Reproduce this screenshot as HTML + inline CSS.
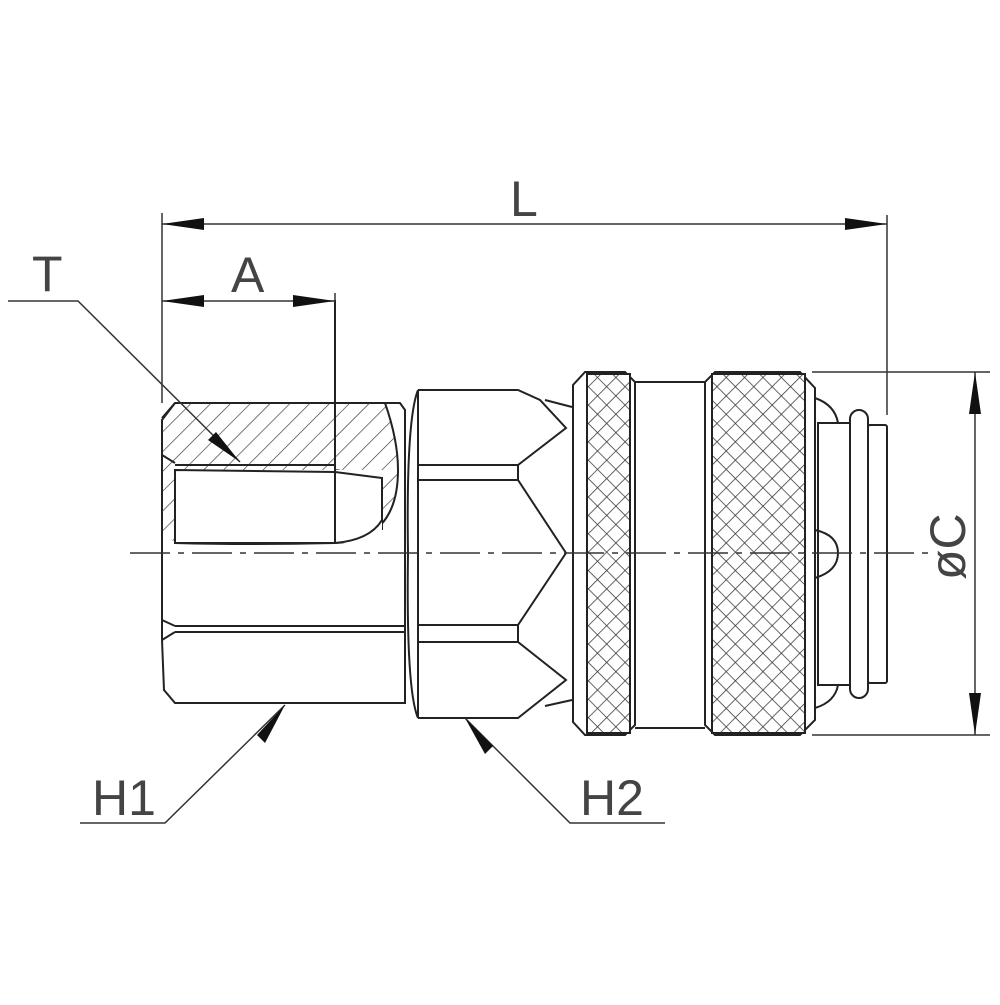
<!DOCTYPE html>
<html><head><meta charset="utf-8"><style>html,body{margin:0;padding:0;background:#fff}</style></head>
<body>
<svg width="1000" height="1000" viewBox="0 0 1000 1000" xmlns="http://www.w3.org/2000/svg">
<defs>
<pattern id="hatch" width="14" height="14" patternUnits="userSpaceOnUse" patternTransform="rotate(45)">
<line x1="0" y1="0" x2="0" y2="14" stroke="#333" stroke-width="1.3"/>
</pattern>
<pattern id="knurl" width="13" height="13" patternUnits="userSpaceOnUse" patternTransform="rotate(45)">
<rect width="13" height="13" fill="#fff"/>
<line x1="0" y1="0" x2="0" y2="13" stroke="#333" stroke-width="1.5"/>
<line x1="0" y1="0" x2="13" y2="0" stroke="#333" stroke-width="1.5"/>
</pattern>
</defs>
<g fill="none" stroke="#222" stroke-width="2">
<path d="M175,403 L400,403 L405,410 L405,703 L175,703 L164,690 L162,640 L162,420 Z" fill="#fff"/>
<path d="M177,403 L385,403 Q398,440 398,470 Q398,540 340,543 L175,543 L162,530 L162,418 Z" fill="url(#hatch)" stroke="none"/>
<path d="M162,418 L175,403"/>
<path d="M175,463 L162,455"/>
<path d="M175,465 L335,465 L335,470 L382,478 L382,530"/>
<path d="M175,470 L175,543 Q250,545 335,543 Q398,540 398,470 Q398,440 385,403"/>
<rect x="175" y="470" width="207" height="73" fill="#fff" stroke="none"/>
<path d="M175,470 L335,472 L382,478 L382,520 Q370,540 335,543 L175,543 Z"/>
<path d="M335,300 L335,543"/>
<path d="M175,626 L405,626 M175,632 L405,632"/>
<path d="M162,620 L175,626 M162,640 L175,632"/>
<path d="M418,390 L518,390 L540,400 L566,428 L518,465 L418,465 M418,480 L518,480 L566,553 L518,625 L418,625 M418,642 L518,642 L566,680 L518,718 L418,718" />
<path d="M418,390 Q406,420 408,553 Q406,690 418,718"/>
<path d="M418,390 L418,718 M518,465 L518,480 M518,625 L518,642"/>
<path d="M545,400 L572,407 M545,706 L572,700"/>
<path d="M585,372 L625,372 L635,382 L635,725 L625,735 L585,735 L573,722 L573,385 Z" fill="#fff"/>
<rect x="587" y="374" width="43" height="359" fill="url(#knurl)" stroke="#222"/>
<path d="M635,382 L705,382 M635,728 L705,728"/>
<path d="M715,372 L800,372 L815,388 L815,720 L800,735 L715,735 L705,725 L705,382 Z" fill="#fff"/>
<rect x="712" y="374" width="93" height="359" fill="url(#knurl)" stroke="#222"/>
<path d="M815,398 Q835,405 838,423 M815,530 Q838,535 838,553 Q838,571 815,578 M815,708 Q835,702 838,685"/>
<rect x="818" y="423" width="32" height="262"/>
<rect x="850" y="410" width="18" height="288" rx="9"/>
<rect x="868" y="425" width="19" height="258" rx="2"/>
</g>
<line x1="130" y1="553" x2="935" y2="553" stroke="#333" stroke-width="1.5" stroke-dasharray="40,8,6,8"/>
<g stroke="#333" stroke-width="1.5" fill="none">
<path d="M162,213 L162,403 M887,215 L887,415 M162,224 L887,224"/>
<path d="M162,301 L335,301 M335,293 L335,301"/>
<path d="M8,301 L78,301 L240,462"/>
<path d="M812,372 L990,372 M812,735 L990,735 M975,372 L975,735"/>
<path d="M80,823 L165,823 L285,705 M665,823 L570,823 L465,718"/>
</g>
<g fill="#111">
<polygon points="162,224 204,218 204,230"/>
<polygon points="887,224 845,218 845,230"/>
<polygon points="162,301 204,295 204,307"/>
<polygon points="335,301 293,295 293,307"/>
<polygon points="975,372 969,414 981,414"/>
<polygon points="975,735 969,693 981,693"/>
<polygon points="240,462 208,440 216,432"/>
<polygon points="285,705 257,735 265,743"/>
<polygon points="465,718 493,746 485,754"/>
</g>
<g font-family="Liberation Sans, sans-serif" fill="#444" font-size="50">
<text x="510" y="216">L</text>
<text x="231" y="292">A</text>
<text x="32" y="291">T</text>
<text x="92" y="815">H1</text>
<text x="580" y="815">H2</text>
<text transform="translate(965,580) rotate(-90)">øC</text>
</g>
</svg>
</body></html>
